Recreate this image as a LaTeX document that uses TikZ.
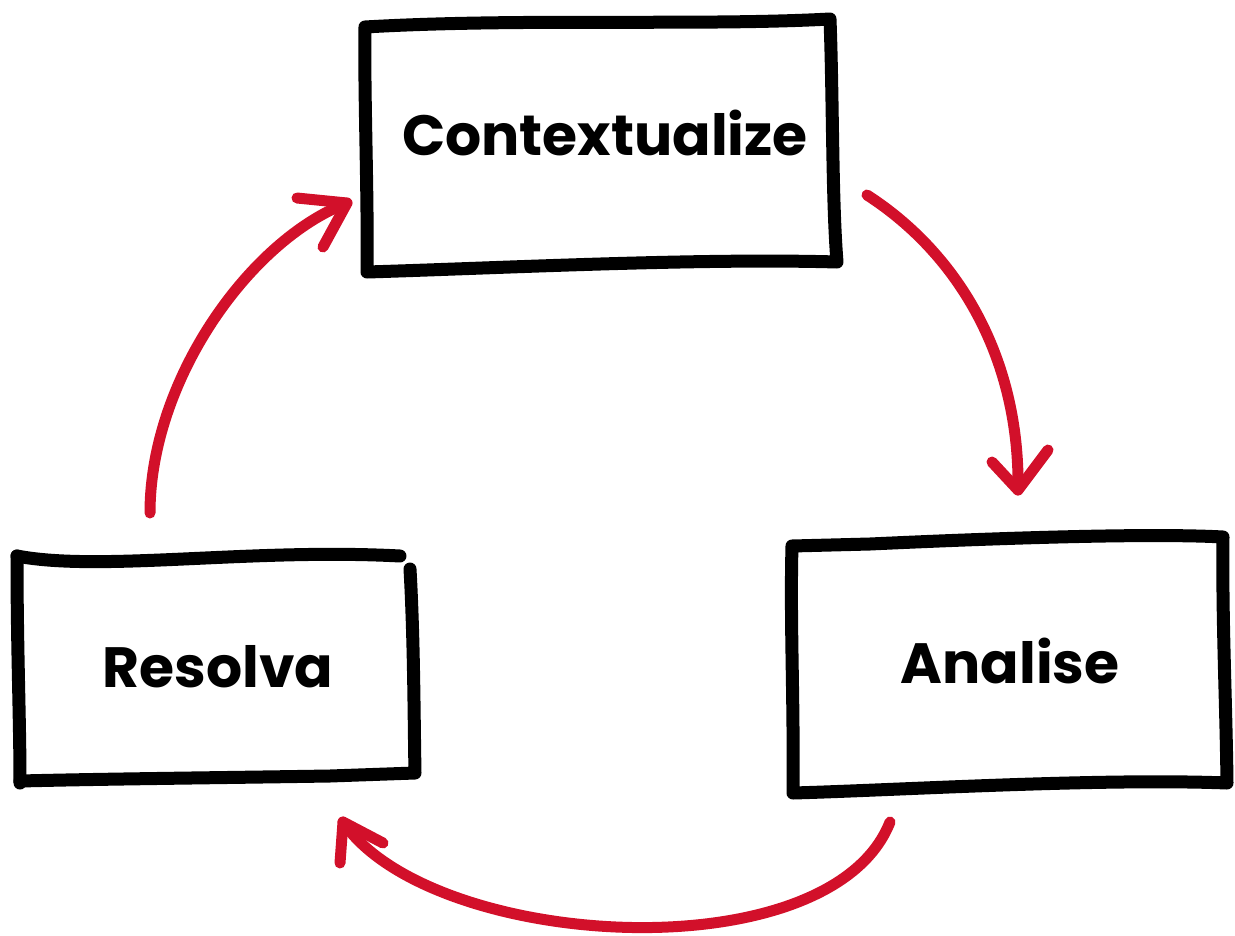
\documentclass[tikz,border=0pt]{standalone}
\usepackage{fontspec}
\setmainfont{Poppins}
\begin{document}
\begin{tikzpicture}[x=1bp,y=-1bp,
  boxline/.style={line width=13bp,black,line cap=round,line join=round},
  loopline/.style={line width=11bp,cyclered,line cap=round,line join=round},
  label/.style={anchor=base,inner sep=0pt,font=\fontsize{57}{60}\selectfont\bfseries}]
\definecolor{cyclered}{RGB}{210,16,42}
\useasboundingbox[fill=white] (0,0) rectangle (1235,936);

% labels
\node[label] (ctx) at (605,155) {Contextualize};
\node[label] (ana) at (1010,683) {Analise};
\node[label] (res) at (218,687) {Resolva};

% sketched frame around "Contextualize"
\coordinate (ctxA) at (365,27);
\coordinate (ctxB) at (830,19);
\coordinate (ctxC) at (837,262);
\coordinate (ctxD) at (367,272);
\draw[boxline] (ctxA) .. controls (520,18) and (700,26) .. (ctxB)
  .. controls (833,100) and (832,200) .. (ctxC)
  .. controls (700,258) and (500,268) .. (ctxD)
  .. controls (368,190) and (364,100) .. cycle;

% sketched frame around "Analise"
\coordinate (anaA) at (792,546);
\coordinate (anaB) at (1223,537);
\coordinate (anaC) at (1227,783);
\coordinate (anaD) at (793,793);
\draw[boxline] (anaA) -- (870,544) .. controls (1000,538) and (1150,533) .. (anaB)
  .. controls (1222,620) and (1226,700) .. (anaC)
  .. controls (1100,778) and (900,790) .. (anaD)
  .. controls (794,700) and (790,620) .. cycle;

% sketched frame around "Resolva"
\coordinate (resA) at (17,556);
\coordinate (resB) at (400,556);
\coordinate (resC) at (410,569);
\coordinate (resD) at (415,773);
\coordinate (resE) at (20,781);
\draw[boxline] (resA) .. controls (100,572) and (250,548) .. (resB);
\draw[boxline] (resC) .. controls (414,640) and (414,720) .. (resD)
  -- (330,776) .. controls (200,778) and (100,779) .. (resE);
\draw[boxline] (resA) .. controls (17,650) and (20,720) .. (20,783);

% cycle arrows
\coordinate (a1s) at (867,195);
\coordinate (a1e) at (1018,490);
\draw[loopline] (a1s) .. controls (960,255) and (1020,360) .. (a1e);
\draw[loopline] (992,462) -- (a1e) -- (1048,450);

\coordinate (a2s) at (890,822);
\coordinate (a2e) at (343,822);
\draw[loopline] (a2s) .. controls (830,975) and (430,950) .. (a2e);
\draw[loopline] (340,863) -- (a2e) -- (383,843);

\coordinate (a3s) at (150,513);
\coordinate (a3e) at (347,203);
\draw[loopline] (a3s) .. controls (150,380) and (250,240) .. (a3e);
\draw[loopline] (297,198) -- (a3e) -- (323,247);
\end{tikzpicture}
\end{document}
